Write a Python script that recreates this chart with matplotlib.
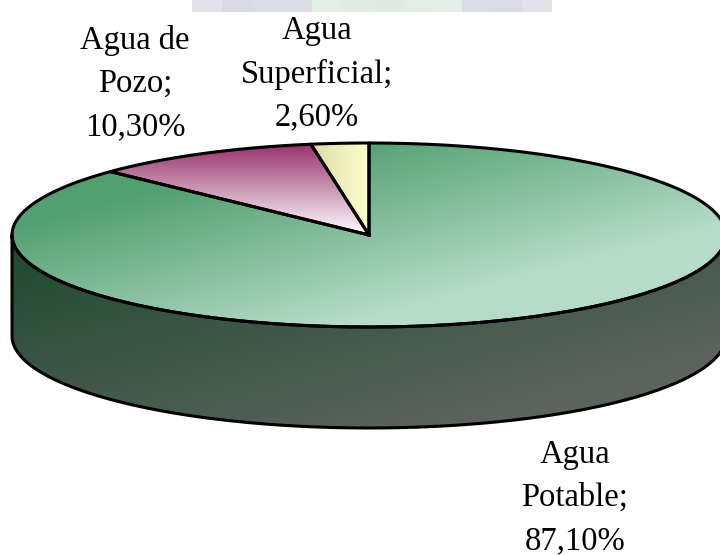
import numpy as np
import matplotlib
matplotlib.use("Agg")
import matplotlib.pyplot as plt
from matplotlib.patches import PathPatch
from matplotlib.path import Path

categories = ["Agua\nPotable;", "Agua de\nPozo;", "Agua\nSuperficial;"]
shares = [87.10, 10.30, 2.60]
share_labels = ["87,10%", "10,30%", "2,60%"]
strip_colors = ["#e2e2e8", "#dadae4", "#dcdce4", "#dcdde2", "#e2eee6", "#e0ece4",
                "#dfece2", "#e1eee6", "#e4f0e8", "#dcdce6", "#dbdbe6", "#e2e2e8"]

plt.rcParams["font.family"] = ["Liberation Serif", "DejaVu Serif"]

CX, CY, RX, RY, DEPTH = 369, 235, 357, 92, 101
LW = 2.2


def ellipse_pts(a0, a1, dy=0.0, n=200):
    # angles run clockwise from 12 o'clock, like the pie
    a = np.radians(np.linspace(a0, a1, n))
    return np.column_stack([CX + RX * np.sin(a), CY - RY * np.cos(a) + dy])


def gradient_fill(ax, pts, c0, c1, direction, extent, offset=0.0):
    x0, x1, y0, y1 = extent
    xx, yy = np.meshgrid(np.linspace(0, 1, 256), np.linspace(0, 1, 256))
    t = np.clip(direction[0] * xx + direction[1] * yy - offset, 0, 1)[..., None]
    img = (1 - t) * np.array(matplotlib.colors.to_rgb(c0)) + t * np.array(matplotlib.colors.to_rgb(c1))
    im = ax.imshow(img, extent=(x0, x1, y1, y0), aspect="auto", interpolation="bilinear", zorder=1)
    patch = PathPatch(Path(pts), transform=ax.transData, facecolor="none", edgecolor="none")
    ax.add_patch(patch)
    im.set_clip_path(patch)


def outline(ax, pts, closed=True):
    if closed:
        pts = np.vstack([pts, pts[:1]])
    ax.plot(pts[:, 0], pts[:, 1], color="black", lw=LW, solid_joinstyle="round", zorder=3, clip_on=True)


fig = plt.figure(figsize=(7.2, 5.55), dpi=100)
ax = fig.add_axes([0, 0, 1, 1])

# blurry remains of a banner at the very top
strip = np.array([[matplotlib.colors.to_rgb(c) for c in strip_colors]])
ax.imshow(strip, extent=(192, 552, 12, 0), aspect="auto", interpolation="nearest", zorder=0)

# slice angles from the shares, clockwise from the top
a_sup = shares[2] * 3.6
a_pozo = a_sup + shares[1] * 3.6
start = -a_pozo
stop = -a_sup
centre = np.array([[CX, CY]])

# side wall, visible lower half only
front = ellipse_pts(90, 270)
wall = np.vstack([front, ellipse_pts(270, 90, dy=DEPTH)])
gradient_fill(ax, wall, "#1d4a2e", "#5c635e", (0.62, 0.62), (CX - RX, CX + RX, CY, CY + RY + DEPTH))
outline(ax, wall)

# top faces
green = np.vstack([centre, ellipse_pts(0, 360 - a_pozo)])
gradient_fill(ax, green, "#529f72", "#b6dcc8", (1, 1), (CX - RX, CX + RX, CY - RY, CY + RY), offset=0.45)
outline(ax, green)

pozo = np.vstack([centre, ellipse_pts(start, stop, n=60)])
gradient_fill(ax, pozo, "#96306a", "#ffffff", (0, 1), (CX - RX, CX, CY - RY, CY))
outline(ax, pozo)

sup = np.vstack([centre, ellipse_pts(stop, 0, n=30)])
gradient_fill(ax, sup, "#dcdcaa", "#ffffcc", (1, 0), (CX - 58, CX, CY - RY, CY))
outline(ax, sup)

ax.set_xlim(0, 720)
ax.set_ylim(555, 0)
ax.axis("off")

label_pos = [(575, 498), (135, 83.5), (317, 74)]
for cat, lab, (x, y) in zip(categories, share_labels, label_pos):
    ax.text(x, y, f"{cat}\n{lab}", ha="center", va="center", fontsize=23.5, linespacing=1.53, color="black", zorder=4)

fig.savefig("out.png", dpi=100)
